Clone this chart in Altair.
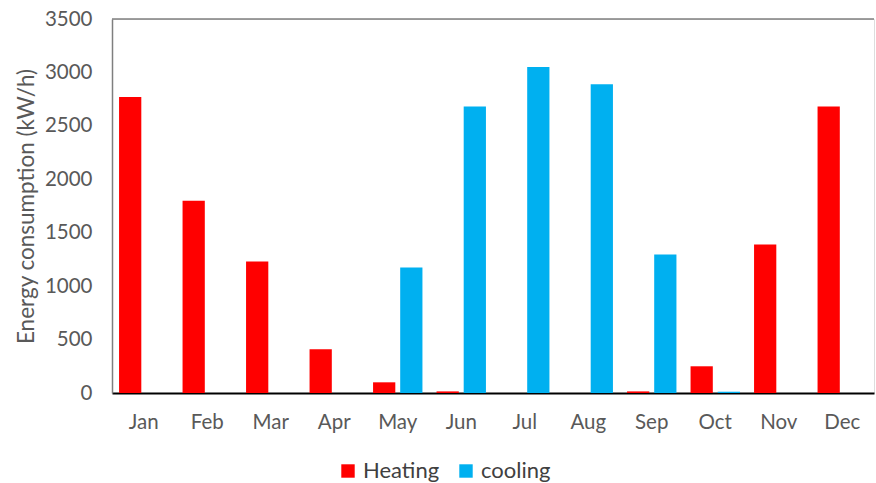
import altair as alt
import pandas as pd

months = ["Jan", "Feb", "Mar", "Apr", "May", "Jun", "Jul", "Aug", "Sep", "Oct", "Nov", "Dec"]
heating = [2770, 1800, 1230, 410, 100, 15, 0, 0, 15, 250, 1390, 2680]
cooling = [0, 0, 0, 0, 1175, 2680, 3050, 2890, 1295, 12, 0, 0]
series = ["Heating", "cooling"]
colors = ["#FF0000", "#00B0F0"]

rows = []
for i, m in enumerate(months):
    rows.append({"month": m, "series": "Heating", "value": heating[i]})
    rows.append({"month": m, "series": "cooling", "value": cooling[i]})
df = pd.DataFrame(rows)

FONT = "Lato"
GREY = "#595959"

bars = alt.Chart(df).mark_bar().encode(
    x=alt.X("month:N", sort=months, title=None,
            scale=alt.Scale(paddingInner=0, paddingOuter=0),
            axis=alt.Axis(labelAngle=0, labelFontSize=20.5, labelColor=GREY, labelFont=FONT,
                          ticks=False, domainColor="#000000", domainWidth=2, labelPadding=19)),
    xOffset=alt.XOffset("series:N", sort=series,
                        scale=alt.Scale(paddingInner=0.18, paddingOuter=0.26)),
    y=alt.Y("value:Q", title="Energy consumption (kW/h)",
            scale=alt.Scale(domain=[0, 3500], nice=False),
            axis=alt.Axis(values=list(range(0, 3501, 500)), format="d", grid=False, ticks=False,
                          labelFontSize=20.5, labelColor=GREY, labelFont=FONT, labelPadding=20,
                          titleFontSize=22.5, titleColor=GREY, titleFont=FONT, titleFontWeight="normal",
                          titlePadding=6, domainColor="#7f7f7f", domainWidth=1.5)),
    color=alt.Color("series:N", sort=series,
                    scale=alt.Scale(domain=series, range=colors),
                    legend=alt.Legend(title=None, orient="none", direction="horizontal",
                                      legendX=225, legendY=441, symbolType="square",
                                      symbolSize=180, symbolStrokeWidth=0, labelFontSize=22,
                                      labelColor="#404040", labelFont=FONT, columnPadding=15,
                                      labelOffset=4)),
)

top_line = alt.Chart(pd.DataFrame({"v": [3500]})).mark_rule(color="#7f7f7f", strokeWidth=1.5).encode(
    y="v:Q"
)

chart = alt.layer(bars, top_line).properties(
    width=762, height=374,
    autosize=alt.AutoSizeParams(type="none"),
    padding={"left": 112, "top": 19, "right": 2, "bottom": 90},
).configure_view(stroke=None).configure(background="white")

chart.save("out.html", embed_options={"renderer": "svg", "actions": False})
